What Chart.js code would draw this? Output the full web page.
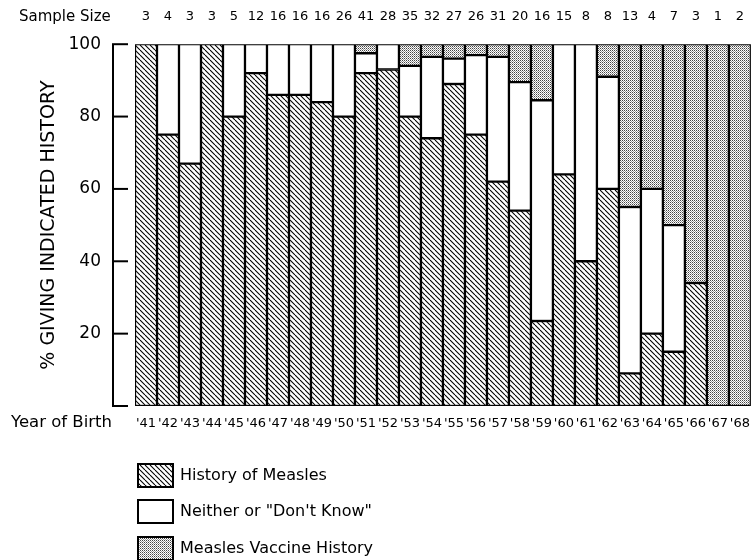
<!DOCTYPE html>
<html>
<head>
<meta charset="utf-8">
<script src="https://cdn.jsdelivr.net/npm/chart.js@4.4.1/dist/chart.umd.min.js"></script>
<style>
  html, body { margin: 0; padding: 0; background: #fff; overflow: hidden; }
  #wrap { width: 760px; height: 560px; }
</style>
</head>
<body>
<div id="wrap"><canvas id="measlesChart" width="760" height="560"></canvas></div>
<script>
// values
const years = ["'41", "'42", "'43", "'44", "'45", "'46", "'47", "'48", "'49", "'50", "'51", "'52", "'53", "'54",
               "'55", "'56", "'57", "'58", "'59", "'60", "'61", "'62", "'63", "'64", "'65", "'66", "'67", "'68"];
const sampleSize = [3, 4, 3, 3, 5, 12, 16, 16, 16, 26, 41, 28, 35, 32, 27, 26, 31, 20, 16, 15, 8, 8, 13, 4, 7, 3, 1, 2];
const measles  = [100, 75, 67, 100, 80, 92, 86, 86, 84, 80, 92, 93, 80, 74, 89, 75, 62, 54, 23.5, 64, 40, 60, 9, 20, 15, 34, 0, 0];
const neither  = [0, 25, 33, 0, 20, 8, 14, 14, 16, 20, 5.5, 7, 14, 22.5, 7, 22, 34.5, 35.5, 61, 36, 60, 31, 46, 40, 35, 0, 0, 0];
const vaccine  = [0, 0, 0, 0, 0, 0, 0, 0, 0, 0, 2.5, 0, 6, 3.5, 4, 3, 3.5, 10.5, 15.5, 0, 0, 9, 45, 40, 50, 66, 100, 100];
const yTicks = [0, 20, 40, 60, 80, 100];

const FONT = "'DejaVu Sans', sans-serif";

// hatch pattern  \\\\
function hatchPattern() {
  const c = document.createElement('canvas');
  c.width = 5; c.height = 5;
  const g = c.getContext('2d');
  g.fillStyle = '#fff';
  g.fillRect(0, 0, 5, 5);
  g.strokeStyle = '#000';
  g.lineWidth = 1.1;
  [-5, 0, 5].forEach(k => {
    g.beginPath();
    g.moveTo(k, 0);
    g.lineTo(k + 5, 5);
    g.stroke();
  });
  return g.createPattern(c, 'repeat');
}

// fine dot screen for vaccine
function dotPattern() {
  const c = document.createElement('canvas');
  c.width = 2; c.height = 2;
  const g = c.getContext('2d');
  g.fillStyle = '#fff';
  g.fillRect(0, 0, 2, 2);
  g.fillStyle = '#444';
  g.fillRect(0, 0, 1, 1);
  g.fillStyle = '#999';
  g.fillRect(1, 1, 1, 1);
  return g.createPattern(c, 'repeat');
}

const hatch = hatchPattern();
const dots = dotPattern();

const barStyle = {
  borderColor: '#000',
  borderWidth: 1.5,
  borderSkipped: false,
  barPercentage: 1,
  categoryPercentage: 1
};

// extra text: sample sizes, axis line, legend
const extrasPlugin = {
  id: 'extras',
  afterDraw(chart) {
    const ctx = chart.ctx;
    const x = chart.scales.x;
    const y = chart.scales.y;
    const area = chart.chartArea;
    ctx.save();

    // sample size row
    ctx.fillStyle = '#000';
    ctx.textBaseline = 'middle';
    ctx.textAlign = 'left';
    ctx.font = '15px ' + FONT;
    ctx.fillText('Sample Size', 19, 17);
    ctx.font = '13px ' + FONT;
    ctx.textAlign = 'center';
    sampleSize.forEach((n, i) => {
      ctx.fillText(String(n), x.getPixelForValue(i), 17);
    });

    // year of birth caption
    ctx.font = '16.5px ' + FONT;
    ctx.textAlign = 'left';
    ctx.fillText('Year of Birth', 11, 423);

    // y axis line with ticks, set off from the bars
    const ax = area.left - 22;
    ctx.strokeStyle = '#000';
    ctx.lineWidth = 2;
    ctx.beginPath();
    ctx.moveTo(ax, y.getPixelForValue(100));
    ctx.lineTo(ax, y.getPixelForValue(0));
    ctx.stroke();
    yTicks.forEach(v => {
      const py = y.getPixelForValue(v);
      ctx.beginPath();
      ctx.moveTo(ax - 1, py);
      ctx.lineTo(ax + 15, py);
      ctx.stroke();
    });

    // legend
    const rows = [464, 500, 537];
    ctx.font = '16px ' + FONT;
    chart.data.datasets.forEach((ds, i) => {
      const top = rows[i];
      ctx.fillStyle = ds.backgroundColor;
      ctx.fillRect(138, top, 35, 23);
      ctx.lineWidth = 2;
      ctx.strokeRect(138, top, 35, 23);
      ctx.fillStyle = '#000';
      ctx.textAlign = 'left';
      ctx.fillText(ds.label, 180, top + 12);
    });
    ctx.restore();
  }
};

new Chart(document.getElementById('measlesChart'), {
  type: 'bar',
  data: {
    labels: years,
    datasets: [
      Object.assign({ label: 'History of Measles', data: measles, backgroundColor: hatch }, barStyle),
      Object.assign({ label: 'Neither or "Don\'t Know"', data: neither, backgroundColor: '#fff' }, barStyle),
      Object.assign({ label: 'Measles Vaccine History', data: vaccine, backgroundColor: dots }, barStyle)
    ]
  },
  options: {
    responsive: false,
    animation: false,
    layout: { padding: { top: 39, right: 3, left: 0, bottom: 0 } },
    plugins: {
      legend: { display: false },
      tooltip: { enabled: false }
    },
    scales: {
      x: {
        stacked: true,
        grid: { display: false, drawTicks: false },
        border: { display: false },
        ticks: {
          color: '#000',
          font: { family: FONT, size: 13 },
          padding: 10,
          maxRotation: 0,
          autoSkip: false
        },
        afterFit(scale) { scale.height = 154; }
      },
      y: {
        stacked: true,
        min: 0,
        max: 100,
        grid: { display: false, drawTicks: false },
        border: { display: false },
        ticks: {
          stepSize: 20,
          color: '#000',
          font: { family: FONT, size: 17 },
          padding: 34,
          callback: v => (v === 0 ? '' : v)
        },
        title: {
          display: true,
          text: '% GIVING INDICATED HISTORY',
          color: '#000',
          font: { family: FONT, size: 19 },
          padding: { top: 38, bottom: 0 }
        },
        afterFit(scale) { scale.width = 135; }
      }
    }
  },
  plugins: [extrasPlugin]
});
</script>
</body>
</html>
